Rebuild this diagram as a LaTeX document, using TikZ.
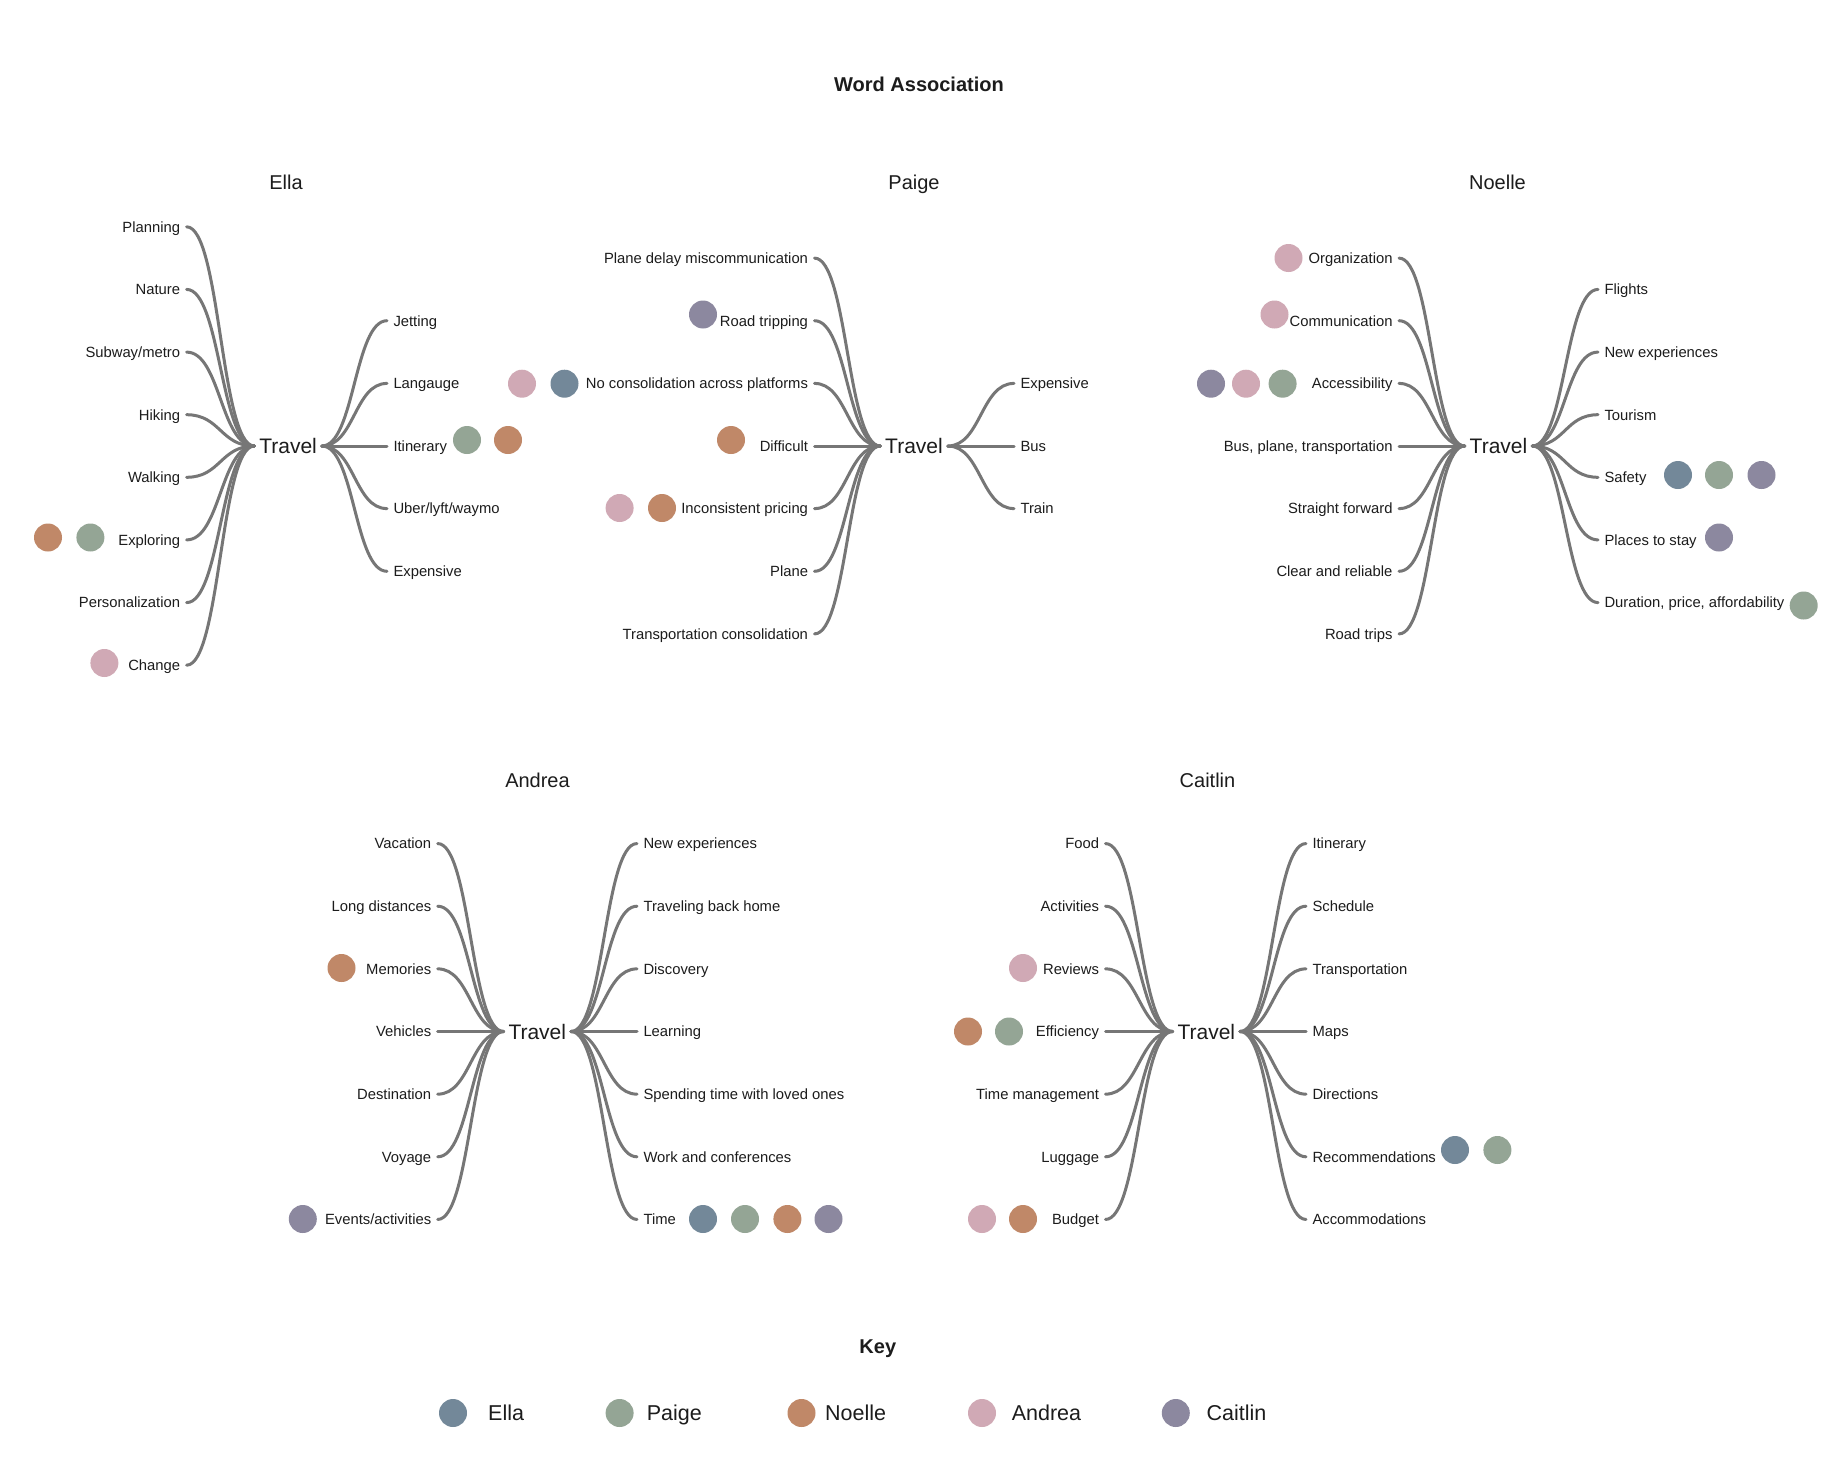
\documentclass[tikz,border=0pt]{standalone}
\usepackage{fontspec}
\setmainfont{Liberation Sans}
\usetikzlibrary{calc}
\definecolor{cE}{HTML}{738899}
\definecolor{cP}{HTML}{94A595}
\definecolor{cN}{HTML}{C08868}
\definecolor{cA}{HTML}{D0A9B5}
\definecolor{cC}{HTML}{8C889F}
\definecolor{ln}{HTML}{767676}
\definecolor{tx}{HTML}{1C1C1C}
\newcommand\lk[2]{\draw[link] let \p1=(#1), \p2=(#2) in (\p1) .. controls ({0.5*\x1+0.5*\x2},\y1) and ({0.5*\x1+0.5*\x2},\y2) .. (\p2);}
\begin{document}
\begin{tikzpicture}[x=1pt,y=-1pt,
  every node/.style={text=tx},
  lbl/.style={font=\fontsize{14.8}{17}\selectfont, inner xsep=6.5pt, inner ysep=0pt, outer sep=0pt, text height=12.2pt, text depth=1.6pt},
  L/.style={lbl, anchor=east},
  R/.style={lbl, anchor=west},
  hub/.style={font=\fontsize{21}{25}\selectfont, inner xsep=5pt, inner ysep=0pt, outer sep=0pt, text height=16pt, text depth=1pt},
  ttl/.style={font=\fontsize{20}{24}\selectfont, inner sep=0pt, text height=18.3pt, text depth=4pt},
  bttl/.style={font=\bfseries\fontsize{20}{24}\selectfont, inner sep=0pt, text height=18.3pt, text depth=4pt},
  dot/.style={circle, minimum size=28pt, inner sep=0pt, draw=none},
  link/.style={draw=ln, line width=3pt, line cap=round},
  keylbl/.style={font=\fontsize{21.5}{25}\selectfont, anchor=west, inner sep=0pt, text height=15.5pt, text depth=0pt}]
\useasboundingbox (0,0) rectangle (1840,1480);
\fill[white] (0,0) rectangle (1840,1480);

\node[bttl] (title) at (919,84.5) {Word Association};

% ---------------- Ella ----------------
\node[ttl] (ella) at (286,182) {Ella};
\node[hub] (et) at (288.1,446) {Travel};
\node[L] (el1) at (186.6,226.8) {Planning};
\node[L] (el2) at (186.6,289.4) {Nature};
\node[L] (el3) at (186.6,352.1) {Subway/metro};
\node[L] (el4) at (186.6,414.7) {Hiking};
\node[L] (el5) at (186.6,477.3) {Walking};
\node[L] (el6) at (186.6,539.9) {Exploring};
\node[L] (el7) at (186.6,602.6) {Personalization};
\node[L] (el8) at (186.6,665.2) {Change};
\node[R] (er1) at (387,320.7) {Jetting};
\node[R] (er2) at (387,383.4) {Langauge};
\node[R] (er3) at (387,446) {Itinerary};
\node[R] (er4) at (387,508.6) {Uber/lyft/waymo};
\node[R] (er5) at (387,571.3) {Expensive};
\foreach \i in {1,...,8} {\lk{el\i.east}{et.west}}
\foreach \i in {1,...,5} {\lk{er\i.west}{et.east}}
\node[dot, fill=cP] (ed1) at (467,440) {};
\node[dot, fill=cN] (ed2) at (508,440) {};
\node[dot, fill=cN] (ed3) at (48,537.5) {};
\node[dot, fill=cP] (ed4) at (90.4,537.5) {};
\node[dot, fill=cA] (ed5) at (104.4,663) {};

% ---------------- Paige ----------------
\node[ttl] (paige) at (914,182) {Paige};
\node[hub] (pt) at (914,446) {Travel};
\node[L] (pl1) at (814.5,258.1) {Plane delay miscommunication};
\node[L] (pl2) at (814.5,320.7) {Road tripping};
\node[L] (pl3) at (814.5,383.4) {No consolidation across platforms};
\node[L] (pl4) at (814.5,446) {Difficult};
\node[L] (pl5) at (814.5,508.6) {Inconsistent pricing};
\node[L] (pl6) at (814.5,571.3) {Plane};
\node[L] (pl7) at (814.5,633.9) {Transportation consolidation};
\node[R] (pr1) at (1014,383.4) {Expensive};
\node[R] (pr2) at (1014,446) {Bus};
\node[R] (pr3) at (1014,508.6) {Train};
\foreach \i in {1,...,7} {\lk{pl\i.east}{pt.west}}
\foreach \i in {1,...,3} {\lk{pr\i.west}{pt.east}}
\node[dot, fill=cC] (pd1) at (703,314.5) {};
\node[dot, fill=cA] (pd2) at (522,383.7) {};
\node[dot, fill=cE] (pd3) at (564.5,383.7) {};
\node[dot, fill=cN] (pd4) at (731,440) {};
\node[dot, fill=cA] (pd5) at (619.6,508) {};
\node[dot, fill=cN] (pd6) at (662,508) {};

% ---------------- Noelle ----------------
\node[ttl] (noelle) at (1497.5,182) {Noelle};
\node[hub] (nt) at (1498.5,446) {Travel};
\node[L] (nl1) at (1399,258.1) {Organization};
\node[L] (nl2) at (1399,320.7) {Communication};
\node[L] (nl3) at (1399,383.4) {Accessibility};
\node[L] (nl4) at (1399,446) {Bus, plane, transportation};
\node[L] (nl5) at (1399,508.6) {Straight forward};
\node[L] (nl6) at (1399,571.3) {Clear and reliable};
\node[L] (nl7) at (1399,633.9) {Road trips};
\node[R] (nr1) at (1598,289.4) {Flights};
\node[R] (nr2) at (1598,352.1) {New experiences};
\node[R] (nr3) at (1598,414.7) {Tourism};
\node[R] (nr4) at (1598,477.3) {Safety};
\node[R] (nr5) at (1598,539.9) {Places to stay};
\node[R] (nr6) at (1598,602.6) {Duration, price, affordability};
\foreach \i in {1,...,7} {\lk{nl\i.east}{nt.west}}
\foreach \i in {1,...,6} {\lk{nr\i.west}{nt.east}}
\node[dot, fill=cA] (nd1) at (1288.5,258) {};
\node[dot, fill=cA] (nd2) at (1274.5,314.5) {};
\node[dot, fill=cC] (nd3) at (1211,383.7) {};
\node[dot, fill=cA] (nd4) at (1246,383.7) {};
\node[dot, fill=cP] (nd5) at (1282.6,383.7) {};
\node[dot, fill=cE] (nd6) at (1678,475) {};
\node[dot, fill=cP] (nd7) at (1719,475) {};
\node[dot, fill=cC] (nd8) at (1761.5,475) {};
\node[dot, fill=cC] (nd9) at (1719,537.5) {};
\node[dot, fill=cP] (nd10) at (1803.7,605.5) {};

% ---------------- Andrea ----------------
\node[ttl] (andrea) at (537.5,780) {Andrea};
\node[hub] (at) at (537.3,1031.5) {Travel};
\node[L] (al1) at (437.7,843.55) {Vacation};
\node[L] (al2) at (437.7,906.2) {Long distances};
\node[L] (al3) at (437.7,968.85) {Memories};
\node[L] (al4) at (437.7,1031.5) {Vehicles};
\node[L] (al5) at (437.7,1094.15) {Destination};
\node[L] (al6) at (437.7,1156.8) {Voyage};
\node[L] (al7) at (437.7,1219.45) {Events/activities};
\node[R] (ar1) at (637,843.55) {New experiences};
\node[R] (ar2) at (637,906.2) {Traveling back home};
\node[R] (ar3) at (637,968.85) {Discovery};
\node[R] (ar4) at (637,1031.5) {Learning};
\node[R] (ar5) at (637,1094.15) {Spending time with loved ones};
\node[R] (ar6) at (637,1156.8) {Work and conferences};
\node[R] (ar7) at (637,1219.45) {Time};
\foreach \i in {1,...,7} {\lk{al\i.east}{at.west}}
\foreach \i in {1,...,7} {\lk{ar\i.west}{at.east}}
\node[dot, fill=cN] (ad1) at (341.5,968) {};
\node[dot, fill=cC] (ad2) at (302.8,1219) {};
\node[dot, fill=cE] (ad3) at (703,1219) {};
\node[dot, fill=cP] (ad4) at (745,1219) {};
\node[dot, fill=cN] (ad5) at (787.4,1219) {};
\node[dot, fill=cC] (ad6) at (828.5,1219) {};

% ---------------- Caitlin ----------------
\node[ttl] (caitlin) at (1207.5,780) {Caitlin};
\node[hub] (ct) at (1206.3,1031.5) {Travel};
\node[L] (cl1) at (1105.5,843.55) {Food};
\node[L] (cl2) at (1105.5,906.2) {Activities};
\node[L] (cl3) at (1105.5,968.85) {Reviews};
\node[L] (cl4) at (1105.5,1031.5) {Efficiency};
\node[L] (cl5) at (1105.5,1094.15) {Time management};
\node[L] (cl6) at (1105.5,1156.8) {Luggage};
\node[L] (cl7) at (1105.5,1219.45) {Budget};
\node[R] (cr1) at (1306,843.55) {Itinerary};
\node[R] (cr2) at (1306,906.2) {Schedule};
\node[R] (cr3) at (1306,968.85) {Transportation};
\node[R] (cr4) at (1306,1031.5) {Maps};
\node[R] (cr5) at (1306,1094.15) {Directions};
\node[R] (cr6) at (1306,1156.8) {Recommendations};
\node[R] (cr7) at (1306,1219.45) {Accommodations};
\foreach \i in {1,...,7} {\lk{cl\i.east}{ct.west}}
\foreach \i in {1,...,7} {\lk{cr\i.west}{ct.east}}
\node[dot, fill=cA] (cd1) at (1023,968) {};
\node[dot, fill=cN] (cd2) at (968,1031.5) {};
\node[dot, fill=cP] (cd3) at (1009,1031.5) {};
\node[dot, fill=cE] (cd4) at (1455,1150) {};
\node[dot, fill=cP] (cd5) at (1497.4,1150) {};
\node[dot, fill=cA] (cd6) at (982,1219) {};
\node[dot, fill=cN] (cd7) at (1023,1219) {};

% ---------------- Key ----------------
\node[bttl] (key) at (877.8,1346) {Key};
\node[dot, fill=cE] (k1) at (453,1413) {};
\node[keylbl] (k1l) at (488,1413) {Ella};
\node[dot, fill=cP] (k2) at (619.6,1413) {};
\node[keylbl] (k2l) at (646.6,1413) {Paige};
\node[dot, fill=cN] (k3) at (801.5,1413) {};
\node[keylbl] (k3l) at (825,1413) {Noelle};
\node[dot, fill=cA] (k4) at (982,1413) {};
\node[keylbl] (k4l) at (1011.6,1413) {Andrea};
\node[dot, fill=cC] (k5) at (1175.8,1413) {};
\node[keylbl] (k5l) at (1206.4,1413) {Caitlin};
\end{tikzpicture}
\end{document}
